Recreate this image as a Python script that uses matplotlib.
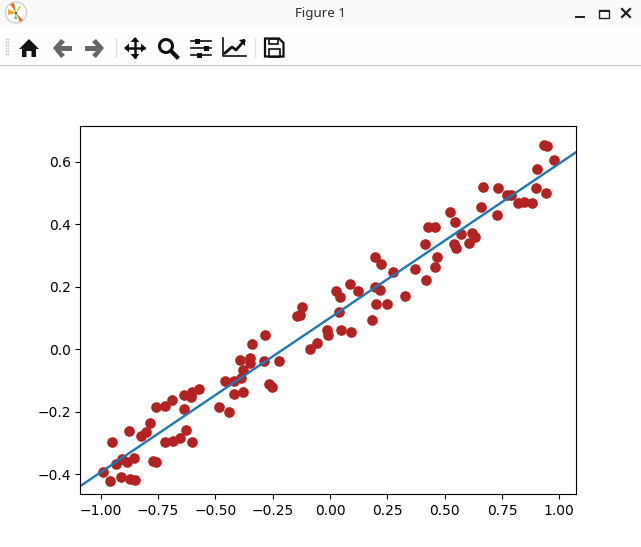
import matplotlib
matplotlib.use('Agg')
import matplotlib.pyplot as plt
from matplotlib.patches import Circle, Rectangle, Polygon

# points
x = [-0.989, -0.958, -0.949, -0.932, -0.910, -0.907, -0.884, -0.871, -0.853, -0.852,
     -0.875, -0.823, -0.804, -0.784, -0.771, -0.760, -0.757, -0.721, -0.718, -0.686,
     -0.688, -0.655, -0.635, -0.629, -0.635, -0.603, -0.607, -0.600, -0.573, -0.483,
     -0.439, -0.457, -0.417, -0.417, -0.390, -0.378, -0.378, -0.391, -0.347, -0.347,
     -0.339, -0.283, -0.286, -0.221, -0.265, -0.252, -0.143, -0.132, -0.121, -0.086,
     -0.055, -0.012, -0.007, 0.049, 0.041, 0.027, 0.045, 0.093, 0.088, 0.123,
     0.184, 0.202, 0.250, 0.198, 0.217, 0.276, 0.224, 0.198, 0.328, 0.372,
     0.420, 0.459, 0.468, 0.416, 0.429, 0.459, 0.525, 0.547, 0.542, 0.551,
     0.573, 0.608, 0.621, 0.634, 0.660, 0.669, 0.734, 0.730, 0.773, 0.791,
     0.821, 0.847, 0.882, 0.900, 0.904, 0.943, 0.978, 0.933, 0.945]
y = [-0.394, -0.423, -0.298, -0.369, -0.410, -0.353, -0.362, -0.415, -0.349, -0.420,
     -0.263, -0.279, -0.264, -0.237, -0.359, -0.362, -0.186, -0.183, -0.298, -0.295,
     -0.163, -0.285, -0.192, -0.260, -0.146, -0.298, -0.154, -0.136, -0.128, -0.186,
     -0.202, -0.103, -0.144, -0.103, -0.093, -0.138, -0.067, -0.035, -0.029, -0.045,
     0.016, 0.045, -0.038, -0.038, -0.112, -0.122, 0.106, 0.109, 0.135, 0.000,
     0.019, 0.063, 0.045, 0.061, 0.119, 0.186, 0.167, 0.055, 0.208, 0.186,
     0.093, 0.144, 0.144, 0.199, 0.190, 0.247, 0.272, 0.295, 0.170, 0.256,
     0.221, 0.263, 0.295, 0.337, 0.391, 0.391, 0.439, 0.408, 0.337, 0.324,
     0.369, 0.340, 0.372, 0.359, 0.455, 0.519, 0.516, 0.429, 0.494, 0.494,
     0.468, 0.471, 0.468, 0.516, 0.577, 0.500, 0.606, 0.655, 0.651]

line_x = [-1.088, 1.073]
line_y = [-0.438, 0.631]

W, H = 641, 547
fig = plt.figure(figsize=(W / 100, H / 100), dpi=100)

# plot area
ax = fig.add_axes([80.5 / W, (H - 494) / H, (576 - 80.5) / W, (494 - 126) / H])
ax.scatter(x, y, color='firebrick', s=44)
ax.plot(line_x, line_y, lw=1.7)
ax.set_xlim(-1.088, 1.073)
ax.set_ylim(-0.464, 0.715)

# window title bar and toolbar
ui = fig.add_axes([0, 0, 1, 1], zorder=5)
ui.set_xlim(0, W)
ui.set_ylim(H, 0)
ui.axis('off')
ui.add_patch(Rectangle((0, 0), W, 27, color='#fafafa', lw=0))
ui.add_patch(Rectangle((0, 27), W, 38, color='#fefefe', lw=0))
ui.add_patch(Rectangle((0, 65), W, 1, color='#c4c4c4', lw=0))
ui.text(320, 13, 'Figure 1', ha='center', va='center', fontsize=9.6,
        family='Noto Sans', color='#2e2e2e')

# app icon
ui.add_patch(Circle((16, 12.5), 10.5, fc='white', ec='#cfcfcf', lw=1))
ui.add_patch(Polygon([(16, 13), (8, 9), (8, 15)], color='#f5a623', lw=0))
ui.add_patch(Polygon([(16, 13), (10, 4), (14, 3)], color='#e8701a', lw=0))
ui.add_patch(Polygon([(16, 13), (23, 20), (20, 22)], color='#e8701a', lw=0))
ui.add_patch(Polygon([(16, 13), (19, 6), (21, 7)], color='#b5d334', lw=0))
ui.add_patch(Polygon([(16, 13), (14, 19), (17, 19)], color='#5bbf9a', lw=0))
ui.add_patch(Circle((16, 13), 1.2, color='#445566', lw=0))

# window buttons
ui.add_patch(Rectangle((575, 16), 10, 2, color='#222222', lw=0))
ui.add_patch(Rectangle((598.5, 9.5), 10, 8, fc='none', ec='#222222', lw=1))
ui.add_patch(Rectangle((598.5, 9.5), 10, 2, color='#222222', lw=0))
ui.plot([622, 630], [9, 17], color='#222222', lw=1.6)
ui.plot([630, 622], [9, 17], color='#222222', lw=1.6)

# toolbar
dark = '#111111'
grey = '#666666'
for gy in range(39, 56, 3):
    ui.plot([6, 8], [gy, gy], ls='none', marker='s', ms=0.5, color='#d0d0d0')
for sx in [115.5, 254.5]:
    ui.plot([sx, sx], [38, 57], color='#e0e0e0', lw=1)

# home
ui.add_patch(Polygon([(19, 49), (29, 39), (39, 49), (36, 49), (36, 57), (31.5, 57),
                      (31.5, 51), (26.5, 51), (26.5, 57), (22, 57), (22, 49)],
                     color=dark, lw=0))
# back / forward
ui.add_patch(Polygon([(53, 48), (61, 39), (65, 42), (61, 46), (72, 46), (72, 51),
                      (61, 51), (65, 55), (61, 58)], color=grey, lw=0))
ui.add_patch(Polygon([(104, 48), (96, 39), (92, 42), (96, 46), (85, 46), (85, 51),
                      (96, 51), (92, 55), (96, 58)], color=grey, lw=0))
# move
ui.plot([126, 144], [48, 48], color=dark, lw=1.8)
ui.plot([135, 135], [39, 57], color=dark, lw=1.8)
ui.add_patch(Polygon([(135, 37), (130.5, 42), (139.5, 42)], color=dark, lw=0))
ui.add_patch(Polygon([(135, 59), (130.5, 54), (139.5, 54)], color=dark, lw=0))
ui.add_patch(Polygon([(124, 48), (129, 43.5), (129, 52.5)], color=dark, lw=0))
ui.add_patch(Polygon([(146, 48), (141, 43.5), (141, 52.5)], color=dark, lw=0))
# zoom
ui.add_patch(Circle((166, 46), 6.5, fc='none', ec=dark, lw=2.2))
ui.plot([171, 177], [51, 57], color=dark, lw=3)
# sliders
for sy, sx in [(41, 197), (48, 206), (55, 199)]:
    ui.plot([191, 211], [sy, sy], color=dark, lw=1.2)
    ui.add_patch(Rectangle((sx - 2.5, sy - 2.5), 5, 5, color=dark, lw=0))
# lines
ui.plot([223, 223, 246], [38, 56, 56], color=dark, lw=1.2)
ui.plot([225, 232, 236, 244], [53, 47, 50, 41], color=dark, lw=2)
ui.add_patch(Polygon([(245, 39), (239, 40), (245, 46)], color=dark, lw=0))
# save
ui.add_patch(Polygon([(265, 38.5), (279, 38.5), (283.5, 43), (283.5, 56.5), (265, 56.5)],
                     fc='none', ec=dark, lw=1.6))
ui.add_patch(Rectangle((269, 39), 9, 5, fc='none', ec=dark, lw=1.2))
ui.add_patch(Rectangle((268.5, 49), 11.5, 7.5, fc='none', ec=dark, lw=1.2))

fig.savefig('out.png', dpi=100)
